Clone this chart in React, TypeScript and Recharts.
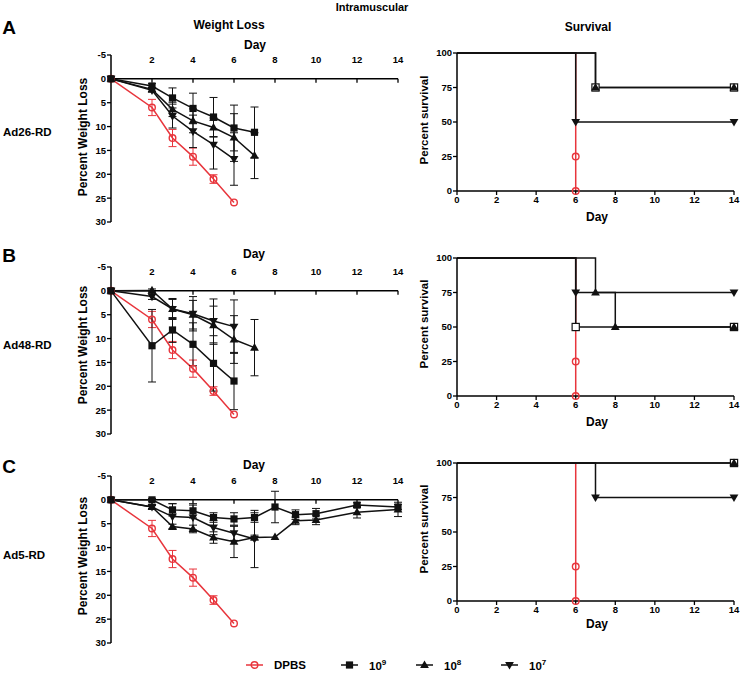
import React from 'react'
import { LineChart, Line, XAxis, YAxis, ErrorBar, ReferenceLine } from 'recharts'

const FONT = '"Liberation Sans", Arial, Helvetica, sans-serif'
const RED = '#e8353c'
const BLACK = '#111'

// ---- weight loss (% of starting weight) ----
const dpbsDays = [0, 2, 3, 4, 5, 6]
const dpbsLoss = [0, 6.0, 12.4, 16.3, 21.0, 25.9]
const dpbsErr = [0, 1.7, 1.8, 1.8, 0.9, 0]

const a9Days = [0, 2, 3, 4, 5, 6, 7]
const a9Loss = [0, 1.5, 4.0, 6.2, 8.0, 10.3, 11.2]
const a9Err = [0, 0.5, 2.1, 3.2, 4.1, 4.8, 5.3]
const a8Days = [0, 2, 3, 4, 5, 6, 7]
const a8Loss = [0, 2.2, 6.4, 8.8, 10.2, 12.3, 16.1]
const a8Err = [0, 0.4, 1.5, 2.5, 2.0, 5.0, 4.8]
const a7Days = [0, 2, 3, 4, 5, 6]
const a7Loss = [0, 2.4, 7.8, 11.0, 13.8, 16.8]
const a7Err = [0, 0.4, 2.5, 3.4, 5.1, 5.5]

const b9Days = [0, 2, 3, 4, 5, 6]
const b9Loss = [0, 11.5, 8.2, 11.2, 15.2, 18.9]
const b9Err = [0, 7.6, 2.6, 4.5, 5.8, 6.0]
const b8Days = [0, 2, 3, 4, 5, 6, 7]
const b8Loss = [0, -0.1, 3.8, 5.0, 7.2, 10.2, 11.9]
const b8Err = [0, 0.3, 2.0, 3.0, 4.0, 5.0, 5.9]
const b7Days = [0, 2, 3, 4, 5, 6]
const b7Loss = [0, 1.2, 3.8, 4.8, 6.3, 7.5]
const b7Err = [0, 0.6, 2.2, 3.6, 4.6, 5.6]

const c9Days = [0, 2, 3, 4, 5, 6, 7, 8, 9, 10, 12, 14]
const c9Loss = [0, 0, 2.1, 2.3, 3.7, 4.0, 3.7, 1.5, 3.1, 2.9, 1.1, 1.5]
const c9Err = [0, 0.3, 1.3, 1.5, 1.0, 1.3, 1.0, 3.3, 1.0, 1.1, 0.5, 0.5]
const c8Days = [0, 2, 3, 4, 5, 6, 7, 8, 9, 10, 12, 14]
const c8Loss = [0, 1.5, 5.6, 6.1, 7.9, 8.8, 7.9, 7.8, 4.4, 4.2, 2.6, 2.0]
const c8Err = [0, 0.3, 0.5, 0.8, 1.2, 3.3, 0.5, 0, 0.8, 1.0, 1.2, 1.5]
const c7Days = [0, 2, 3, 4, 5, 6, 7]
const c7Loss = [0, 1.5, 3.5, 3.7, 5.8, 7.0, 8.2]
const c7Err = [0, 0.3, 2.7, 2.6, 1.5, 1.5, 6.0]

// ---- survival (%), [day, percent] steps ----
const survDpbs = [[0, 100], [6, 25], [6, 0]]
const survA9 = [[0, 100], [7, 75], [14, 75]]
const survA8 = [[0, 100], [7, 75], [14, 75]]
const survA7 = [[0, 100], [6, 50], [14, 50]]
const survB9 = [[0, 100], [6, 50], [14, 50]]
const survB8 = [[0, 100], [7, 75], [8, 50], [14, 50]]
const survB7 = [[0, 100], [6, 75], [14, 75]]
const survC9 = [[0, 100], [14, 100]]
const survC8 = [[0, 100], [14, 100]]
const survC7 = [[0, 100], [7, 75], [14, 75]]

const weightDayTicks = [2, 4, 6, 8, 10, 12, 14]
const weightYTicks = [-5, 0, 5, 10, 15, 20, 25, 30]
const survDayTicks = [0, 2, 4, 6, 8, 10, 12, 14]
const survYTicks = [0, 25, 50, 75, 100]

type Shape = 'circle' | 'square' | 'up' | 'down'

const toPoints = (days: number[], vals: number[], errs: number[]) =>
  days.map((d, i) => ({ day: d, v: vals[i], e: errs[i] }))
const toSteps = (pairs: number[][]) => pairs.map(([d, p]) => ({ day: d, v: p }))

const tickStyle = { fill: '#000', fontSize: 9.5, fontWeight: 'bold', fontFamily: FONT }

function Marker({ cx, cy, shape, color, open }: { cx: number; cy: number; shape: Shape; color: string; open?: boolean }) {
  if (cx == null || cy == null) return null
  if (shape === 'circle')
    return <circle cx={cx} cy={cy} r={3.3} fill="none" stroke={color} strokeWidth={1.4} />
  if (shape === 'square') {
    const s = 3.6
    return (
      <rect x={cx - s} y={cy - s} width={2 * s} height={2 * s}
        fill={open ? '#fff' : color} stroke={color} strokeWidth={open ? 1.2 : 0} />
    )
  }
  if (shape === 'up')
    return <polygon points={`${cx},${cy - 4.6} ${cx + 4.4},${cy + 3} ${cx - 4.4},${cy + 3}`} fill={color} />
  return <polygon points={`${cx},${cy + 4.6} ${cx + 4.4},${cy - 3} ${cx - 4.4},${cy - 3}`} fill={color} />
}

interface Series {
  data: { day: number; v: number; e?: number }[]
  shape: Shape
  color: string
  open?: boolean
}

function WeightPanel({ top, series }: { top: number; series: Series[] }) {
  return (
    <div style={{ position: 'absolute', left: 40, top: top - 20 }}>
      <LineChart width={370} height={191} margin={{ top: 0, right: 12, bottom: 4, left: 0 }}>
        <XAxis type="number" dataKey="day" domain={[0, 14]} ticks={weightDayTicks} interval={0}
          orientation="top" height={20} axisLine={false} tickLine={false} tickSize={0} tickMargin={0}
          tick={{ ...tickStyle, dy: 8 }} />
        <YAxis type="number" domain={[-5, 30]} reversed ticks={weightYTicks} interval={0} width={71}
          axisLine={{ stroke: '#000', strokeWidth: 1.5 }} tickLine={{ stroke: '#000', strokeWidth: 1.3 }}
          tickSize={4} tickMargin={1} tick={tickStyle} />
        <ReferenceLine y={0} stroke="#000" strokeWidth={1.5} />
        {weightDayTicks.map((d) => (
          <ReferenceLine key={d} segment={[{ x: d, y: 0 }, { x: d, y: 0.8 }]} stroke="#000" strokeWidth={1.3} />
        ))}
        {series.map((s, i) => (
          <Line key={i} data={s.data} dataKey="v" stroke={s.color} strokeWidth={1.5}
            isAnimationActive={false} activeDot={false}
            dot={(p: any) => <Marker key={`m${i}-${p.index}`} cx={p.cx} cy={p.cy} shape={s.shape} color={s.color} />}>
            <ErrorBar dataKey="e" direction="y" width={4} stroke={s.color} strokeWidth={1} />
          </Line>
        ))}
      </LineChart>
    </div>
  )
}

function SurvivalPanel({ top, series }: { top: number; series: Series[] }) {
  return (
    <div style={{ position: 'absolute', left: 400, top: top - 8 }}>
      <LineChart width={341} height={170} margin={{ top: 8, right: 7, bottom: 0, left: 0 }}>
        <XAxis type="number" dataKey="day" domain={[0, 14]} ticks={survDayTicks} interval={0} height={24}
          axisLine={{ stroke: '#000', strokeWidth: 1.5 }} tickLine={{ stroke: '#000', strokeWidth: 1.3 }}
          tickSize={4} tickMargin={1} tick={tickStyle} />
        <YAxis type="number" domain={[0, 100]} ticks={survYTicks} interval={0} width={57}
          axisLine={{ stroke: '#000', strokeWidth: 1.5 }} tickLine={{ stroke: '#000', strokeWidth: 1.3 }}
          tickSize={4} tickMargin={1} tick={tickStyle} />
        {series.map((s, i) => (
          <Line key={i} data={s.data} dataKey="v" type="stepAfter" stroke={s.color} strokeWidth={1.5}
            isAnimationActive={false} activeDot={false}
            dot={(p: any) =>
              p.index === 0 ? <g key={`m${i}-${p.index}`} /> :
                <Marker key={`m${i}-${p.index}`} cx={p.cx} cy={p.cy} shape={s.shape} color={s.color} open={s.open} />} />
        ))}
      </LineChart>
    </div>
  )
}

const txt = (x: number, y: number, text: React.ReactNode, size = 12, extra: React.CSSProperties = {}) => (
  <div style={{
    position: 'absolute', left: x, top: y, transform: 'translate(-50%, -50%)', whiteSpace: 'nowrap',
    fontFamily: FONT, fontWeight: 'bold', fontSize: size, color: '#000', lineHeight: 1, ...extra,
  }}>{text}</div>
)
const vtxt = (x: number, y: number, text: string, size = 12) =>
  txt(x, y, text, size, { transform: 'translate(-50%, -50%) rotate(-90deg)' })
const ltxt = (x: number, y: number, text: string, size = 11.5) => (
  <div style={{
    position: 'absolute', left: x, top: y, transform: 'translateY(-50%)', whiteSpace: 'nowrap',
    fontFamily: FONT, fontWeight: 'bold', fontSize: size, color: '#000', lineHeight: 1,
  }}>{text}</div>
)

function LegendItem({ x, shape, color, label }: { x: number; shape: Shape; color: string; label: React.ReactNode }) {
  return (
    <div style={{ position: 'absolute', left: x, top: 657, height: 16, display: 'flex', alignItems: 'center' }}>
      <svg width={17} height={12}>
        <line x1={0} y1={6} x2={17} y2={6} stroke={color} strokeWidth={1.5} />
        <Marker cx={8.5} cy={6} shape={shape} color={color} />
      </svg>
      <span style={{ marginLeft: 11, fontFamily: FONT, fontWeight: 'bold', fontSize: 11.5, color: '#000' }}>{label}</span>
    </div>
  )
}

const pow = (e: number) => <>10<sup style={{ fontSize: 8, verticalAlign: 5 }}>{e}</sup></>

export default function App() {
  const dpbsW = toPoints(dpbsDays, dpbsLoss, dpbsErr)
  const weightA: Series[] = [
    { data: dpbsW, shape: 'circle', color: RED },
    { data: toPoints(a9Days, a9Loss, a9Err), shape: 'square', color: BLACK },
    { data: toPoints(a8Days, a8Loss, a8Err), shape: 'up', color: BLACK },
    { data: toPoints(a7Days, a7Loss, a7Err), shape: 'down', color: BLACK },
  ]
  const weightB: Series[] = [
    { data: dpbsW, shape: 'circle', color: RED },
    { data: toPoints(b9Days, b9Loss, b9Err), shape: 'square', color: BLACK },
    { data: toPoints(b8Days, b8Loss, b8Err), shape: 'up', color: BLACK },
    { data: toPoints(b7Days, b7Loss, b7Err), shape: 'down', color: BLACK },
  ]
  const weightC: Series[] = [
    { data: dpbsW, shape: 'circle', color: RED },
    { data: toPoints(c9Days, c9Loss, c9Err), shape: 'square', color: BLACK },
    { data: toPoints(c8Days, c8Loss, c8Err), shape: 'up', color: BLACK },
    { data: toPoints(c7Days, c7Loss, c7Err), shape: 'down', color: BLACK },
  ]
  const surv = (s9: number[][], s8: number[][], s7: number[][]): Series[] => [
    { data: toSteps(survDpbs), shape: 'circle', color: RED },
    { data: toSteps(s9), shape: 'square', color: BLACK, open: true },
    { data: toSteps(s8), shape: 'up', color: BLACK },
    { data: toSteps(s7), shape: 'down', color: BLACK },
  ]

  return (
    <div style={{ position: 'absolute', left: 0, top: 0, width: 741, height: 673, background: '#fff', overflow: 'hidden' }}>
      {txt(372, 7, 'Intramuscular', 11)}
      {txt(229, 25, 'Weight Loss', 12)}
      {txt(588, 27, 'Survival', 12)}

      {txt(9, 27, 'A', 19)}
      {txt(9, 255, 'B', 19)}
      {txt(9, 466, 'C', 19)}

      {ltxt(3, 133, 'Ad26-RD')}
      {ltxt(3, 346, 'Ad48-RD')}
      {ltxt(3, 556, 'Ad5-RD')}

      {txt(255, 45, 'Day', 12)}
      {txt(254, 254, 'Day', 12)}
      {txt(254, 465, 'Day', 12)}
      {vtxt(83, 137, 'Percent Weight Loss')}
      {vtxt(83, 345, 'Percent Weight Loss')}
      {vtxt(83, 556, 'Percent Weight Loss')}

      {txt(597, 217, 'Day', 12)}
      {txt(597, 422, 'Day', 12)}
      {txt(597, 624, 'Day', 12)}
      {vtxt(425, 120, 'Percent survival', 11.5)}
      {vtxt(425, 324, 'Percent survival', 11.5)}
      {vtxt(425, 529, 'Percent survival', 11.5)}

      <WeightPanel top={55} series={weightA} />
      <WeightPanel top={267} series={weightB} />
      <WeightPanel top={476} series={weightC} />

      <SurvivalPanel top={53} series={surv(survA9, survA8, survA7)} />
      <SurvivalPanel top={258} series={surv(survB9, survB8, survB7)} />
      <SurvivalPanel top={463} series={surv(survC9, survC8, survC7)} />

      <LegendItem x={246} shape="circle" color={RED} label="DPBS" />
      <LegendItem x={341} shape="square" color={BLACK} label={pow(9)} />
      <LegendItem x={416} shape="up" color={BLACK} label={pow(8)} />
      <LegendItem x={501} shape="down" color={BLACK} label={pow(7)} />
    </div>
  )
}
